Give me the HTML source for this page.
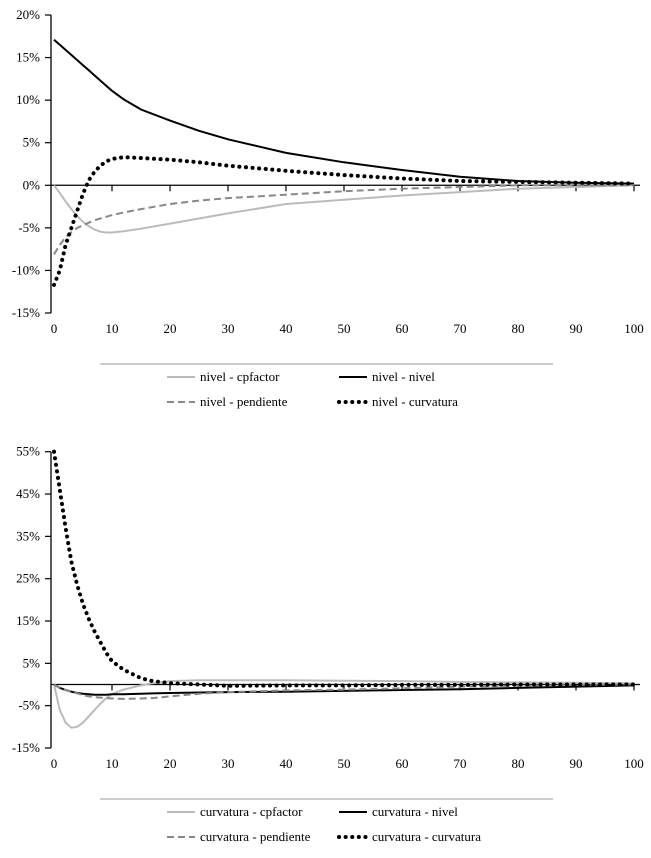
<!DOCTYPE html>
<html><head><meta charset="utf-8"><style>
html,body{margin:0;padding:0;background:#fff;}
svg text{font-family:"Liberation Serif",serif;font-size:13px;fill:#000;}
</style></head><body>
<svg id="c" width="651" height="853" xmlns="http://www.w3.org/2000/svg"></svg>
<script>
// Top panel (nivel shocks)
const topX = [0,1,2,3,4,5,6,7,8,9,10,12,15,20,25,30,40,50,60,70,80,90,100];
const topCp = [0,-0.9,-1.9,-2.8,-3.6,-4.3,-4.8,-5.2,-5.45,-5.55,-5.55,-5.4,-5.1,-4.5,-3.9,-3.3,-2.2,-1.7,-1.2,-0.8,-0.4,-0.2,0];
const topNiv = [17.1,16.5,15.9,15.3,14.7,14.1,13.5,12.9,12.3,11.7,11.1,10.1,8.9,7.6,6.4,5.4,3.8,2.7,1.8,1.0,0.5,0.3,0.2];
const topPen = [-8.1,-7.0,-6.1,-5.5,-5.0,-4.7,-4.4,-4.1,-3.9,-3.7,-3.5,-3.2,-2.8,-2.2,-1.8,-1.5,-1.1,-0.7,-0.4,-0.2,0,0,0];
const topCur = [-11.7,-10.0,-7.0,-5.0,-3.0,-1.0,0.6,1.6,2.3,2.8,3.1,3.3,3.2,3.0,2.7,2.3,1.7,1.2,0.8,0.5,0.4,0.3,0.2];
const topTicks = [-15,-10,-5,0,5,10,15,20];
// Bottom panel (curvatura shocks)
const botX = [0,1,2,3,4,5,6,7,8,9,10,12,15,17,20,25,30,40,50,60,70,80,90,100];
const botCp = [0,-6,-9,-10.2,-10,-9,-7.5,-6,-4.5,-3.2,-2.3,-1.2,-0.2,0.3,0.8,1,1,1,0.9,0.8,0.6,0.5,0.4,0.3];
const botNiv = [0,-0.8,-1.3,-1.7,-2,-2.2,-2.3,-2.4,-2.4,-2.4,-2.3,-2.3,-2.2,-2.1,-2,-1.9,-1.8,-1.7,-1.5,-1.3,-1.1,-0.8,-0.5,-0.2];
const botPen = [0,-0.8,-1.3,-1.7,-2.1,-2.5,-2.8,-3,-3.1,-3.2,-3.3,-3.4,-3.3,-3.2,-2.8,-2.2,-1.8,-1.4,-1.2,-0.9,-0.5,-0.3,-0.1,0];
const botCur = [55,46,37,29,23.5,19,15.5,12.5,10,7.5,5.5,3.5,1.5,0.8,0.3,0,-0.3,-0.2,-0.2,-0.1,-0.1,0,0,0];
const botTicks = [-15,-5,5,15,25,35,45,55];
const xTicks = [0,10,20,30,40,50,60,70,80,90,100];

const svg=document.getElementById('c');
const NS='http://www.w3.org/2000/svg';
function mk(tag,attrs,parent){const e=document.createElementNS(NS,tag);for(const k in attrs)e.setAttribute(k,attrs[k]);(parent||svg).appendChild(e);return e;}
const sx=v=>54+v*5.8;

function panel(name,yMin,yMax,yTop,yBot,ticks,series,labels,legY){
  const g=mk('g',{});
  
  
  const sy=v=>yBot-(v-yMin)/(yMax-yMin)*(yBot-yTop);
  const ya=mk('line',{x1:51,x2:51,y1:yTop,y2:yBot,stroke:'#000','stroke-width':1.3},g);
  
  
  ticks.forEach(t=>{
    mk('line',{x1:45,x2:51,y1:sy(t),y2:sy(t),stroke:'#000','stroke-width':1.2},g);
    const tx=mk('text',{x:40,y:sy(t)+4,'text-anchor':'end'},g);
    tx.textContent=t+'%';
    
    
  });
  const y0=sy(0);
  const xa=mk('line',{x1:51,x2:640,y1:y0,y2:y0,stroke:'#000','stroke-width':1.3},g);
  
  
  xTicks.forEach(t=>{
    if(t>0)mk('line',{x1:sx(t),x2:sx(t),y1:y0,y2:y0+6,stroke:'#000','stroke-width':1.2},g);
    const tx=mk('text',{x:sx(t),y:yBot+20,'text-anchor':'middle'},g);
    tx.textContent=t;
    
    
  });
  const styles=[
    {stroke:'#bbb','stroke-width':2},
    {stroke:'#000','stroke-width':2},
    {stroke:'#888','stroke-width':2,'stroke-dasharray':'7,4'},
    {stroke:'#000','stroke-width':4,'stroke-dasharray':'0.1,6.5','stroke-linecap':'round'}
  ];
  series.forEach((s,i)=>{
    const d=s.ys.map((v,j)=>(j?'L':'M')+sx(s.xs[j]).toFixed(1)+','+sy(v).toFixed(1)).join(' ');
    const p=mk('path',Object.assign({d:d,fill:'none'},styles[i]),g);
    
    
  });
  mk('line',{x1:100,x2:553,y1:legY,y2:legY,stroke:'#999','stroke-width':1},g);
  const pos=[[167,legY+17],[339,legY+17],[167,legY+42],[339,legY+42]];
  [0,1,2,3].forEach(i=>{
    const [lx,ly]=pos[i];
    const e=mk('g',{},g);
    
    
    mk('line',Object.assign({x1:lx,x2:lx+28,y1:ly-4,y2:ly-4},styles[i]),e);
    const t=mk('text',{x:lx+33,y:ly},e);
    t.textContent=labels[i];
  });
}
panel('top-chart',-15,20,15,313,topTicks,
 [{xs:topX,ys:topCp},{xs:topX,ys:topNiv},{xs:topX,ys:topPen},{xs:topX,ys:topCur}],
 ['nivel - cpfactor','nivel - nivel','nivel - pendiente','nivel - curvatura'],364);
panel('bottom-chart',-15,55,451.7,748,botTicks,
 [{xs:botX,ys:botCp},{xs:botX,ys:botNiv},{xs:botX,ys:botPen},{xs:botX,ys:botCur}],
 ['curvatura - cpfactor','curvatura - nivel','curvatura - pendiente','curvatura - curvatura'],799);
</script>
</body></html>
